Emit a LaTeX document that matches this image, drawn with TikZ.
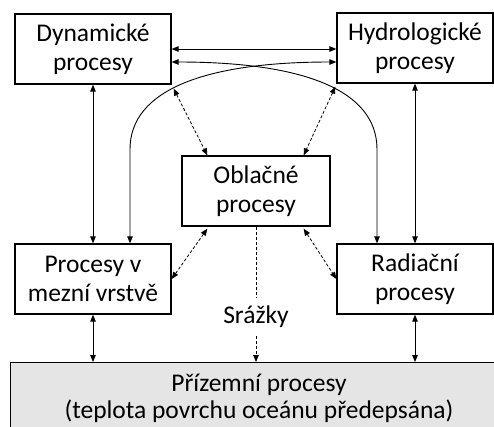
\documentclass[tikz,border=0pt]{standalone}
\usepackage{fontspec}
\setmainfont{Carlito}
\usetikzlibrary{arrows.meta,calc}

\begin{document}
\begin{tikzpicture}[x=1pt,y=-1pt,>={Triangle[length=7pt,width=5.5pt]},
	proc/.style={draw,line width=1.3pt,minimum width=156pt,minimum height=70pt,align=center,inner sep=0pt,font=\fontsize{25.5}{29}\selectfont},
	link/.style={<->,line width=0.9pt},
	weak/.style={<->,line width=0.8pt,dash pattern=on 3pt off 2pt}]
		\useasboundingbox (0,0) rectangle (494,426);
		
		% processes
		\node[proc] (dyn) at (93,49) {Dynamické\\procesy};
		\node[proc] (hyd) at (415,48) {Hydrologické\\procesy};
		\node[proc,minimum width=148pt] (obl) at (256,191) {Oblačné\\procesy};
		\node[proc] (pbl) at (93,279) {Procesy v\\mezní vrstvě};
		\node[proc] (rad) at (415,279) {Radiační\\procesy};
		\node[proc,fill=black!10!white,minimum width=510pt,minimum height=78pt,anchor=north west] (sfc) at (10,362) {};
		\node[font=\fontsize{25.5}{27}\selectfont,align=center] at (259,398) {Přízemní procesy\\(teplota povrchu oceánu předepsána)};
		
		% straight links
		\draw[link] (dyn.east) -- (dyn.east -| hyd.west);
		\draw[link] (dyn.south) -- (pbl.north);
		\draw[link] (hyd.south) -- (rad.north);
		\draw[link] (pbl.south) -- (pbl.south |- sfc.north);
		\draw[link] (rad.south) -- (rad.south |- sfc.north);
		
		% curved links
		\coordinate (a) at ([yshift=-13pt]dyn.east);
		\coordinate (b) at ([xshift=-38pt]rad.north);
		\draw[link] (a) .. controls +(130,0) and +(0,-60) .. ($(b)+(0,-94)$) -- (b);
		\coordinate (c) at ([yshift=-14pt]hyd.west);
		\coordinate (d) at ([xshift=37pt]pbl.north);
		\draw[link] (c) .. controls +(-130,0) and +(0,-60) .. ($(d)+(0,-94)$) -- (d);
		
		% cloud links
		\draw[weak] ([xshift=2pt,yshift=-4pt]dyn.south east) -- ([xshift=26pt]obl.north west);
		\draw[weak] ([xshift=-1pt,yshift=-3pt]hyd.south west) -- ([xshift=-27pt]obl.north east);
		\draw[weak] ([xshift=26pt,yshift=-2pt]obl.south west) -- (pbl.east);
		\draw[weak] ([xshift=-27pt,yshift=-2pt]obl.south east) -- (rad.west);
		
		% precipitation
		\node[font=\fontsize{25.5}{29}\selectfont,inner sep=8pt] (rain) at (256,317) {Srážky};
		\draw[line width=0.8pt,dash pattern=on 3pt off 2pt] (obl.south) -- (rain.north);
		\draw[->,line width=0.8pt,dash pattern=on 3pt off 2pt] (rain.south) -- (rain.south |- sfc.north);
	\end{tikzpicture}
\end{document}
